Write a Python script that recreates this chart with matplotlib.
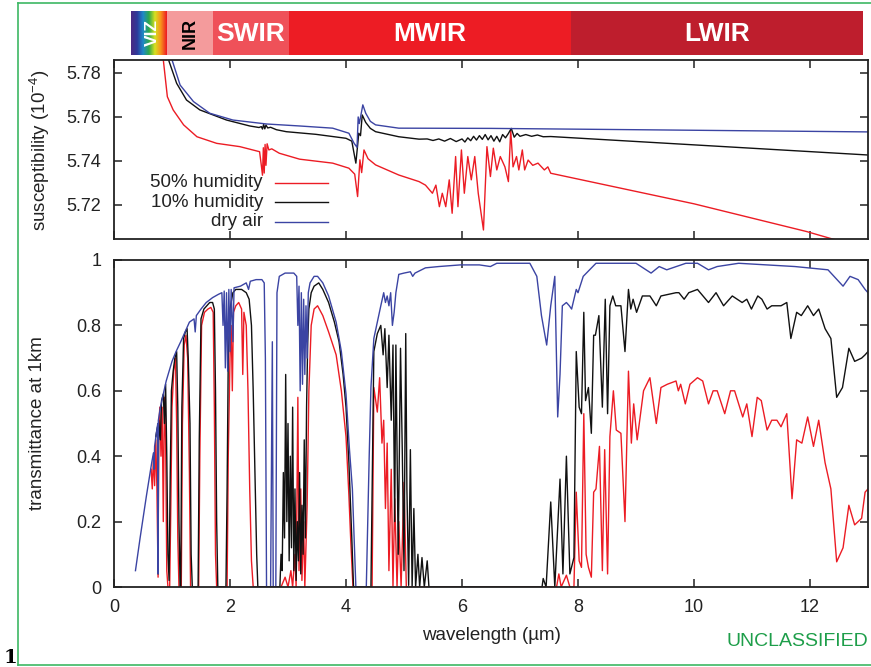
import matplotlib
matplotlib.use("Agg")
import matplotlib.pyplot as plt
import numpy as np
from matplotlib.colors import LinearSegmentedColormap
from matplotlib.lines import Line2D

plt.rcParams['font.family'] = ['Liberation Sans', 'DejaVu Sans']
plt.rcParams['mathtext.fontset'] = 'custom'
plt.rcParams['mathtext.rm'] = 'Liberation Sans'
plt.rcParams['mathtext.it'] = 'Liberation Sans:italic'

# ---- data (wavelength in um) ----
band_names = ["VIZ", "NIR", "SWIR", "MWIR", "LWIR"]
band_edges = [0.30, 0.92, 1.70, 3.01, 7.88, 12.91]
band_colors = [None, "#f49b9c", "#ef5159", "#ed1c24", "#be1e2d"]
viz_colors = ["#4b2a83", "#2d3a9b", "#1e88c8", "#2da84a", "#d6e021", "#f7941d", "#ed1c24"]

series_labels = ["50% humidity", "10% humidity", "dry air"]
series_colors = ["#ec1c24", "#111111", "#3b44a3"]

# susceptibility (1e-4)
sus_50 = [(0.80, 5.80), (0.85, 5.786), (0.92, 5.7692), (1.02, 5.7632), (1.20, 5.7564), (1.43, 5.751),
          (1.77, 5.748), (2.17, 5.7465), (2.51, 5.7442), (2.54, 5.7380), (2.56, 5.7335), (2.575, 5.7460),
          (2.59, 5.7345), (2.605, 5.7475), (2.62, 5.7380), (2.64, 5.7478), (2.67, 5.7450), (2.72, 5.7455),
          (2.85, 5.7435), (3.2, 5.7408), (3.77, 5.7390), (4.05, 5.7367), (4.15, 5.7340), (4.20, 5.7238),
          (4.24, 5.7405), (4.27, 5.7347), (4.31, 5.7450), (4.38, 5.7410), (4.51, 5.7382), (4.91, 5.7336),
          (5.26, 5.7306), (5.37, 5.7290), (5.49, 5.7253), (5.55, 5.7290), (5.61, 5.7192), (5.66, 5.7253),
          (5.72, 5.7192), (5.78, 5.7314), (5.83, 5.7162), (5.89, 5.7420), (5.93, 5.7192), (5.99, 5.7450),
          (6.04, 5.7253), (6.10, 5.7420), (6.16, 5.7314), (6.22, 5.7420), (6.28, 5.7253), (6.37, 5.7086),
          (6.43, 5.7465), (6.49, 5.7329), (6.54, 5.7458), (6.60, 5.7359), (6.66, 5.7420), (6.74, 5.7373),
          (6.80, 5.7306), (6.84, 5.7540), (6.88, 5.7373), (6.94, 5.7420), (6.98, 5.7359), (7.04, 5.7450),
          (7.08, 5.7359), (7.14, 5.7404), (7.22, 5.7380), (7.31, 5.7390), (7.42, 5.7359), (7.48, 5.7373),
          (7.53, 5.7344), (10.0, 5.7205), (11.94, 5.7079), (12.40, 5.7044), (13.0, 5.7005)]
sus_10 = [(0.88, 5.80), (0.94, 5.786), (1.08, 5.7753), (1.25, 5.7677), (1.48, 5.7632), (1.94, 5.7586),
          (2.34, 5.7559), (2.50, 5.7552), (2.54, 5.7556), (2.56, 5.7545), (2.58, 5.7566), (2.60, 5.7546),
          (2.62, 5.7563), (2.65, 5.7550), (2.70, 5.7553), (2.80, 5.7542), (2.97, 5.7533), (3.48, 5.7521),
          (4.0, 5.7503), (4.10, 5.7490), (4.17, 5.7390), (4.20, 5.7470), (4.22, 5.7526), (4.25, 5.7515),
          (4.28, 5.7609), (4.34, 5.7575), (4.42, 5.7548), (4.51, 5.7533), (4.91, 5.7510), (5.26, 5.7499),
          (5.4, 5.7500), (5.5, 5.7493), (5.6, 5.7500), (5.7, 5.7490), (5.8, 5.7502), (5.9, 5.7488),
          (6.0, 5.7500), (6.05, 5.7486), (6.1, 5.7505), (6.15, 5.7492), (6.2, 5.7512), (6.25, 5.7495),
          (6.3, 5.7515), (6.35, 5.7498), (6.4, 5.7520), (6.45, 5.7496), (6.5, 5.7515), (6.55, 5.7490),
          (6.6, 5.7512), (6.65, 5.7487), (6.7, 5.7520), (6.75, 5.7505), (6.8, 5.7525), (6.85, 5.7548),
          (6.9, 5.7508), (6.95, 5.7525), (7.0, 5.7512), (7.1, 5.7520), (7.2, 5.7512), (7.3, 5.7518),
          (7.4, 5.7510), (7.53, 5.7511), (13.0, 5.7427)]
sus_dry = [(0.95, 5.80), (1.0, 5.786), (1.14, 5.7745), (1.37, 5.767), (1.65, 5.7617), (2.05, 5.7586),
           (2.63, 5.7568), (3.2, 5.7559), (3.77, 5.7549), (4.05, 5.7526), (4.14, 5.7480), (4.19, 5.7462),
           (4.21, 5.7600), (4.23, 5.7570), (4.29, 5.7655), (4.34, 5.7617), (4.42, 5.7580), (4.51, 5.7564),
           (4.91, 5.7549), (6.5, 5.7548), (9.0, 5.7542), (13.0, 5.7532)]

# transmittance at 1 km
tr_50 = [(0.64, 0.36), (0.66, 0.30), (0.68, 0.40), (0.70, 0.31), (0.72, 0.45), (0.74, 0.30), (0.76, 0.03),
         (0.77, 0.48), (0.79, 0.55), (0.81, 0.40), (0.83, 0.55), (0.85, 0.20), (0.87, 0.58), (0.89, 0.45),
         (0.91, 0.05), (0.93, 0.0), (0.96, 0.0), (0.98, 0.25), (1.00, 0.55), (1.03, 0.66), (1.06, 0.70),
         (1.08, 0.50), (1.10, 0.15), (1.12, 0.0), (1.16, 0.0), (1.18, 0.50), (1.21, 0.74), (1.24, 0.77),
         (1.27, 0.70), (1.30, 0.35), (1.32, 0.0), (1.46, 0.0), (1.48, 0.40), (1.51, 0.80), (1.56, 0.84),
         (1.62, 0.85), (1.67, 0.855), (1.71, 0.84), (1.73, 0.55), (1.75, 0.10), (1.77, 0.0), (1.95, 0.0),
         (1.97, 0.40), (2.00, 0.70), (2.02, 0.80), (2.04, 0.60), (2.06, 0.84), (2.10, 0.86), (2.15, 0.87),
         (2.20, 0.85), (2.22, 0.65), (2.24, 0.84), (2.28, 0.80), (2.31, 0.60), (2.34, 0.30), (2.37, 0.08),
         (2.40, 0.0), (2.88, 0.0), (2.95, 0.03), (3.00, 0.0), (3.05, 0.05), (3.08, 0.0), (3.12, 0.10),
         (3.14, 0.0), (3.17, 0.58), (3.19, 0.05), (3.22, 0.30), (3.24, 0.02), (3.27, 0.20), (3.29, 0.0),
         (3.31, 0.12), (3.33, 0.25), (3.36, 0.60), (3.40, 0.80), (3.45, 0.85), (3.51, 0.86), (3.60, 0.83),
         (3.70, 0.78), (3.83, 0.71), (3.92, 0.60), (4.00, 0.46), (4.05, 0.28), (4.08, 0.15), (4.12, 0.0),
         (4.45, 0.0), (4.48, 0.61), (4.54, 0.535), (4.58, 0.64), (4.62, 0.44), (4.65, 0.51), (4.68, 0.24),
         (4.71, 0.44), (4.74, 0.05), (4.78, 0.36), (4.81, 0.0), (4.84, 0.27), (4.88, 0.0), (4.91, 0.20),
         (4.95, 0.0), (5.00, 0.32), (5.04, 0.0), (7.63, 0.0), (7.67, 0.04), (7.71, 0.0), (7.80, 0.036),
         (7.86, 0.0), (7.93, 0.0), (7.97, 0.29), (8.02, 0.08), (8.06, 0.06), (8.10, 0.53), (8.14, 0.10),
         (8.18, 0.06), (8.23, 0.03), (8.27, 0.29), (8.31, 0.30), (8.37, 0.43), (8.42, 0.05), (8.46, 0.42),
         (8.51, 0.04), (8.55, 0.46), (8.61, 0.60), (8.66, 0.48), (8.74, 0.47), (8.81, 0.20), (8.87, 0.66),
         (8.92, 0.44), (8.96, 0.56), (9.02, 0.45), (9.13, 0.60), (9.24, 0.64), (9.35, 0.50), (9.43, 0.61),
         (9.54, 0.62), (9.69, 0.63), (9.73, 0.60), (9.77, 0.62), (9.85, 0.56), (9.93, 0.62), (10.06, 0.64),
         (10.15, 0.63), (10.25, 0.56), (10.33, 0.60), (10.40, 0.60), (10.53, 0.53), (10.63, 0.60),
         (10.70, 0.60), (10.84, 0.52), (10.91, 0.56), (11.00, 0.46), (11.09, 0.58), (11.16, 0.57),
         (11.26, 0.48), (11.34, 0.51), (11.43, 0.51), (11.50, 0.49), (11.60, 0.53), (11.69, 0.27),
         (11.77, 0.45), (11.86, 0.44), (11.96, 0.52), (12.06, 0.43), (12.15, 0.51), (12.26, 0.38),
         (12.36, 0.30), (12.46, 0.077), (12.57, 0.12), (12.67, 0.25), (12.77, 0.19), (12.89, 0.21),
         (12.95, 0.29), (13.0, 0.30)]
tr_10 = [(0.72, 0.46), (0.75, 0.49), (0.76, 0.04), (0.77, 0.51), (0.80, 0.45), (0.82, 0.57), (0.85, 0.59),
         (0.87, 0.50), (0.89, 0.62), (0.91, 0.40), (0.93, 0.10), (0.95, 0.02), (0.97, 0.35), (0.99, 0.60),
         (1.02, 0.66), (1.05, 0.70), (1.08, 0.72), (1.10, 0.55), (1.12, 0.20), (1.14, 0.0), (1.15, 0.0),
         (1.17, 0.55), (1.20, 0.76), (1.23, 0.78), (1.26, 0.79), (1.28, 0.70), (1.31, 0.50), (1.33, 0.10),
         (1.35, 0.0), (1.45, 0.0), (1.47, 0.45), (1.50, 0.82), (1.55, 0.85), (1.60, 0.86), (1.65, 0.87),
         (1.70, 0.87), (1.73, 0.85), (1.75, 0.60), (1.77, 0.20), (1.79, 0.0), (1.93, 0.0), (1.95, 0.30),
         (1.97, 0.70), (2.00, 0.85), (2.05, 0.90), (2.10, 0.91), (2.20, 0.91), (2.28, 0.90), (2.33, 0.88),
         (2.37, 0.80), (2.40, 0.60), (2.43, 0.35), (2.46, 0.10), (2.48, 0.0), (2.86, 0.0), (2.88, 0.10),
         (2.90, 0.05), (2.92, 0.35), (2.94, 0.15), (2.96, 0.65), (2.98, 0.20), (3.00, 0.50), (3.02, 0.08),
         (3.04, 0.40), (3.06, 0.12), (3.08, 0.55), (3.10, 0.05), (3.12, 0.30), (3.14, 0.02), (3.16, 0.20),
         (3.18, 0.08), (3.20, 0.35), (3.22, 0.04), (3.24, 0.25), (3.26, 0.10), (3.28, 0.45), (3.30, 0.15),
         (3.32, 0.55), (3.34, 0.75), (3.36, 0.85), (3.40, 0.90), (3.45, 0.92), (3.53, 0.93), (3.60, 0.91),
         (3.70, 0.87), (3.80, 0.81), (3.88, 0.75), (3.95, 0.65), (4.00, 0.55), (4.05, 0.38), (4.10, 0.15),
         (4.13, 0.0), (4.43, 0.0), (4.48, 0.72), (4.54, 0.775), (4.60, 0.80), (4.64, 0.71), (4.67, 0.79),
         (4.71, 0.61), (4.74, 0.77), (4.78, 0.51), (4.81, 0.74), (4.84, 0.20), (4.86, 0.74), (4.90, 0.10),
         (4.94, 0.73), (4.97, 0.42), (5.00, 0.05), (5.03, 0.775), (5.05, 0.30), (5.08, 0.005), (5.11, 0.42),
         (5.14, 0.0), (5.17, 0.24), (5.20, 0.0), (5.24, 0.10), (5.27, 0.0), (5.31, 0.09), (5.35, 0.0),
         (5.40, 0.08), (5.43, 0.0), (7.38, 0.0), (7.40, 0.026), (7.45, 0.0), (7.53, 0.26), (7.60, 0.0),
         (7.69, 0.33), (7.74, 0.04), (7.80, 0.40), (7.86, 0.04), (7.93, 0.09), (7.97, 0.72), (8.02, 0.55),
         (8.06, 0.53), (8.10, 0.84), (8.13, 0.57), (8.18, 0.61), (8.23, 0.47), (8.27, 0.77), (8.30, 0.77),
         (8.36, 0.83), (8.42, 0.55), (8.47, 0.88), (8.51, 0.53), (8.55, 0.86), (8.60, 0.89), (8.65, 0.86),
         (8.74, 0.86), (8.81, 0.72), (8.87, 0.91), (8.91, 0.85), (8.95, 0.88), (9.01, 0.84), (9.11, 0.89),
         (9.24, 0.89), (9.35, 0.86), (9.43, 0.89), (9.69, 0.90), (9.74, 0.90), (9.83, 0.88), (9.91, 0.90),
         (10.06, 0.91), (10.25, 0.87), (10.38, 0.90), (10.51, 0.86), (10.66, 0.89), (10.83, 0.87),
         (10.91, 0.88), (10.99, 0.85), (11.10, 0.89), (11.17, 0.88), (11.26, 0.85), (11.34, 0.86),
         (11.50, 0.86), (11.60, 0.87), (11.67, 0.76), (11.77, 0.84), (11.85, 0.83), (11.96, 0.86),
         (12.06, 0.83), (12.15, 0.85), (12.26, 0.79), (12.36, 0.76), (12.46, 0.58), (12.56, 0.61),
         (12.67, 0.73), (12.77, 0.69), (12.89, 0.70), (12.95, 0.71), (13.0, 0.72)]
tr_dry = [(0.37, 0.05), (0.45, 0.15), (0.56, 0.28), (0.65, 0.38), (0.68, 0.41), (0.69, 0.36), (0.70, 0.43),
          (0.73, 0.47), (0.755, 0.50), (0.76, 0.04), (0.765, 0.51), (0.80, 0.55), (0.90, 0.63), (1.0, 0.69),
          (1.07, 0.72), (1.15, 0.75), (1.30, 0.81), (1.38, 0.82), (1.40, 0.78), (1.42, 0.83), (1.50, 0.85),
          (1.59, 0.87), (1.70, 0.885), (1.80, 0.895), (1.86, 0.90), (1.88, 0.80), (1.90, 0.905), (1.92, 0.67),
          (1.94, 0.90), (1.96, 0.66), (1.98, 0.91), (2.00, 0.72), (2.02, 0.91), (2.05, 0.75), (2.07, 0.915),
          (2.18, 0.92), (2.28, 0.93), (2.32, 0.91), (2.35, 0.935), (2.45, 0.94), (2.55, 0.94), (2.59, 0.93),
          (2.61, 0.70), (2.63, 0.0), (2.70, 0.0), (2.73, 0.75), (2.745, 0.0), (2.79, 0.0), (2.81, 0.90),
          (2.85, 0.95), (2.95, 0.96), (3.10, 0.96), (3.15, 0.95), (3.17, 0.80), (3.19, 0.92), (3.21, 0.60),
          (3.23, 0.90), (3.25, 0.62), (3.27, 0.88), (3.29, 0.65), (3.31, 0.86), (3.33, 0.70), (3.35, 0.90),
          (3.38, 0.93), (3.45, 0.95), (3.51, 0.95), (3.60, 0.93), (3.70, 0.89), (3.83, 0.81), (3.92, 0.72),
          (4.00, 0.59), (4.06, 0.42), (4.11, 0.30), (4.14, 0.15), (4.17, 0.0), (4.35, 0.0), (4.40, 0.40),
          (4.43, 0.61), (4.48, 0.76), (4.54, 0.81), (4.60, 0.86), (4.65, 0.90), (4.68, 0.87), (4.71, 0.89),
          (4.74, 0.86), (4.77, 0.90), (4.80, 0.80), (4.83, 0.84), (4.86, 0.90), (4.91, 0.956), (5.00, 0.96),
          (5.11, 0.964), (5.15, 0.95), (5.19, 0.96), (5.37, 0.976), (5.60, 0.98), (5.97, 0.985), (6.30, 0.985),
          (6.49, 0.98), (6.60, 0.99), (7.17, 0.99), (7.29, 0.95), (7.37, 0.83), (7.46, 0.74), (7.53, 0.86),
          (7.60, 0.95), (7.65, 0.52), (7.69, 0.65), (7.73, 0.86), (7.80, 0.87), (7.85, 0.86), (7.89, 0.85),
          (7.97, 0.91), (8.00, 0.90), (8.09, 0.95), (8.31, 0.99), (9.00, 0.99), (9.26, 0.96), (9.40, 0.98),
          (9.53, 0.97), (9.86, 0.99), (10.06, 0.99), (10.25, 0.97), (10.40, 0.98), (10.77, 0.99),
          (11.74, 0.98), (12.31, 0.97), (12.57, 0.92), (12.69, 0.95), (12.83, 0.94), (12.95, 0.91), (13.0, 0.90)]

sus_ticks = [5.72, 5.74, 5.76, 5.78]
tr_ticks = [0, 0.2, 0.4, 0.6, 0.8, 1]
tr_ticklabels = ["0", "0.2", "0.4", "0.6", "0.8", "1"]
wl_ticks = [0, 2, 4, 6, 8, 10, 12]

W, H = 871, 667
fig = plt.figure(figsize=(W / 100, H / 100), dpi=100)


def px_box(x0, y0, x1, y1):
    return [x0 / W, 1 - y1 / H, (x1 - x0) / W, (y1 - y0) / H]


def style(ax):
    for s in ax.spines.values():
        s.set_linewidth(1.3)
        s.set_color("#222222")
    ax.tick_params(direction="in", top=True, right=True, length=6, width=1.1,
                   labelsize=13, pad=9, colors="#222222")
    ax.set_xlim(0, 13)
    ax.set_xticks(wl_ticks)


# spectral band strip
band = fig.add_axes(px_box(114, 11, 868, 55))
band.set_xlim(0, 13)
band.set_ylim(0, 1)
band.axis("off")
cmap = LinearSegmentedColormap.from_list("viz", viz_colors)
band.imshow(np.linspace(0, 1, 64)[None, :], cmap=cmap, aspect="auto",
            extent=(band_edges[0], band_edges[1], 0, 1))
for i, name in enumerate(band_names):
    lo, hi = band_edges[i], band_edges[i + 1]
    if band_colors[i] is not None:
        band.axvspan(lo, hi, color=band_colors[i], lw=0)
    mid = (lo + hi) / 2
    if name == "VIZ":
        band.text(mid + 0.05, 0.5, name, color="white", fontsize=12.5, fontweight="bold",
                  rotation=90, ha="center", va="center")
    elif name == "NIR":
        band.text(mid, 0.5, name, color="black", fontsize=13, fontweight="bold",
                  rotation=90, ha="center", va="center")
    else:
        band.text(mid, 0.47, name, color="white", fontsize=19, fontweight="bold",
                  ha="center", va="center")
band.set_xlim(0, 13)

# susceptibility panel
ax1 = fig.add_axes(px_box(114, 60, 868, 239))
style(ax1)
for data, c in zip([sus_50, sus_10, sus_dry], series_colors):
    x, y = zip(*data)
    ax1.plot(x, y, color=c, lw=1.0)
ax1.set_ylim(5.7045, 5.7859)
ax1.set_yticks(sus_ticks)
ax1.set_yticklabels([f"{v:.2f}" for v in sus_ticks])
ax1.tick_params(labelbottom=False)

# legend (gnuplot style: text then sample line)
for k, (lab, c) in enumerate(zip(series_labels, series_colors)):
    yy = 0.313 - k * 0.108
    ax1.text(0.1976, yy, lab, transform=ax1.transAxes, ha="right", va="center",
             fontsize=13.5, color="#222222")
    ax1.add_line(Line2D([0.2135, 0.2838], [yy, yy], transform=ax1.transAxes, color=c, lw=1.0))

# transmittance panel
ax2 = fig.add_axes(px_box(114, 260, 868, 587))
style(ax2)
for data, c in zip([tr_50, tr_10, tr_dry], series_colors):
    x, y = zip(*data)
    ax2.plot(x, y, color=c, lw=1.0)
ax2.set_ylim(0, 1)
ax2.set_yticks(tr_ticks)
ax2.set_yticklabels(tr_ticklabels)

fig.text(40 / W, 1 - 150 / H, "susceptibility (10$^{-4}$)", rotation=90, ha="center", va="center",
         fontsize=13.5, color="#222222")
fig.text(38 / W, 1 - 423 / H, "transmittance at 1km", rotation=90, ha="center", va="center",
         fontsize=13.5, color="#222222")
fig.text(491 / W, 1 - 636 / H, "wavelength (\u00b5m)", ha="center", va="center",
         fontsize=13.5, color="#222222")
fig.text(868 / W, 1 - 641 / H, "UNCLASSIFIED", ha="right", va="center",
         fontsize=14, color="#1e9e4a")
fig.text(10 / W, 1 - 658 / H, "1", ha="center", va="center", fontsize=14,
         fontweight="bold", family="DejaVu Serif")

# green page frame
g = "#3db864"
fig.add_artist(Line2D([18 / W, 18 / W], [1 - 665 / H, 1 - 3 / H], transform=fig.transFigure, color=g, lw=1.2))
fig.add_artist(Line2D([18 / W, 1], [1 - 3 / H, 1 - 3 / H], transform=fig.transFigure, color=g, lw=1.2))
fig.add_artist(Line2D([18 / W, 1], [1 - 665 / H, 1 - 665 / H], transform=fig.transFigure, color=g, lw=1.2))

fig.savefig("out.png", dpi=100)
